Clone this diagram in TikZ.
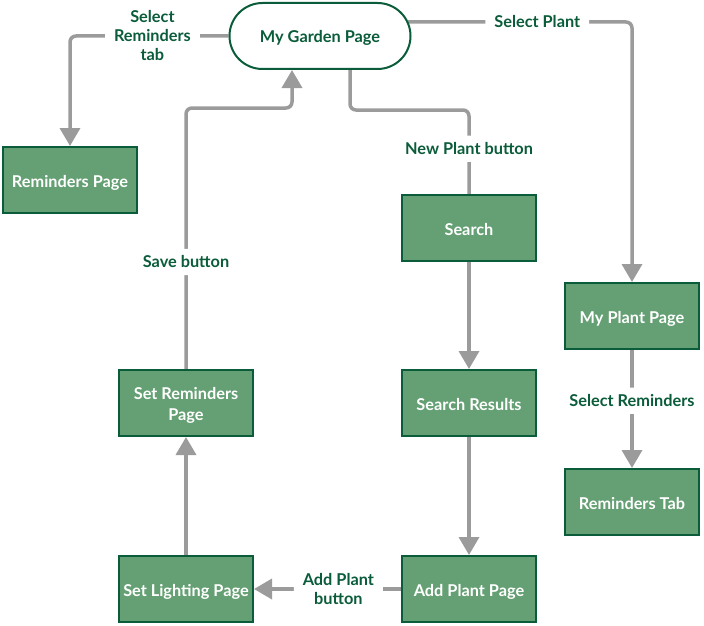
\documentclass[tikz,border=0pt]{standalone}
\usepackage{fontspec}
\setmainfont{Lato}
\usetikzlibrary{arrows.meta, backgrounds}
\definecolor{leafgreen}{RGB}{100,160,115}
\definecolor{stemgreen}{RGB}{10,92,58}
\definecolor{pathgray}{RGB}{155,155,155}
\tikzset{>={Triangle[width=20pt,length=18pt]}}
\tikzset{
    pagebox/.style={draw=stemgreen, line width=2pt, fill=leafgreen, text=white,
        font=\bfseries\fontsize{16.3}{21}\selectfont, align=center,
        text height=14pt, text depth=0pt,
        minimum width=134pt, minimum height=66pt, inner sep=0pt},
    startbox/.style={pagebox, fill=white, text=stemgreen, minimum width=181pt, rounded corners=33pt},
    flow/.style={draw=pathgray, line width=3.5pt, rounded corners=6pt},
    flowlabel/.style={fill=white, text=stemgreen, font=\bfseries\fontsize{16.3}{19}\selectfont,
        align=center, inner xsep=9pt, inner ysep=7pt}
}
\begin{document}
\begin{tikzpicture}[x=1pt, y=-1pt]

    \useasboundingbox (0,0) rectangle (704,626);

    \node[startbox] (garden) at (320,36) {My Garden Page};
    \node[pagebox] (remind) at (70,180) {Reminders Page};
    \node[pagebox] (search) at (469,228) {Search};
    \node[pagebox] (results) at (469,403) {Search Results};
    \node[pagebox] (addplant) at (469,589) {Add Plant Page};
    \node[pagebox] (lighting) at (186,589) {Set Lighting Page};
    \node[pagebox, text height=35pt] (setrem) at (186,403) {Set Reminders\\Page};
    \node[pagebox] (myplant) at (632,316) {My Plant Page};
    \node[pagebox] (remtab) at (632,502) {Reminders Tab};

    \begin{scope}[on background layer]
        \draw[flow, ->] (garden.west) -| node[flowlabel, pos=0.24] {Select\\Reminders\\tab} (remind.north);
        \draw[flow, ->] ([xshift=-4pt, yshift=14pt]garden.east) -| node[flowlabel, pos=0.289] {Select Plant} (myplant.north);
        \draw[flow] ([xshift=30pt]garden.south) -- ++(0,40) -| node[flowlabel, pos=0.73] {New Plant button} (search.north);
        \draw[flow, ->] (search) -- (results);
        \draw[flow, ->] (results) -- (addplant);
        \draw[flow, ->] (addplant) -- node[flowlabel, pos=0.426] {Add Plant\\button} (lighting);
        \draw[flow, ->] (lighting) -- (setrem);
        \draw[flow, ->] (setrem.north) |- node[flowlabel, pos=0.205] {Save button} ([xshift=-28pt, yshift=-38pt]garden.south) -- ([xshift=-28pt]garden.south);
        \draw[flow, ->] (myplant) -- node[flowlabel, pos=0.43] {Select Reminders} (remtab);
    \end{scope}

\end{tikzpicture}
\end{document}
